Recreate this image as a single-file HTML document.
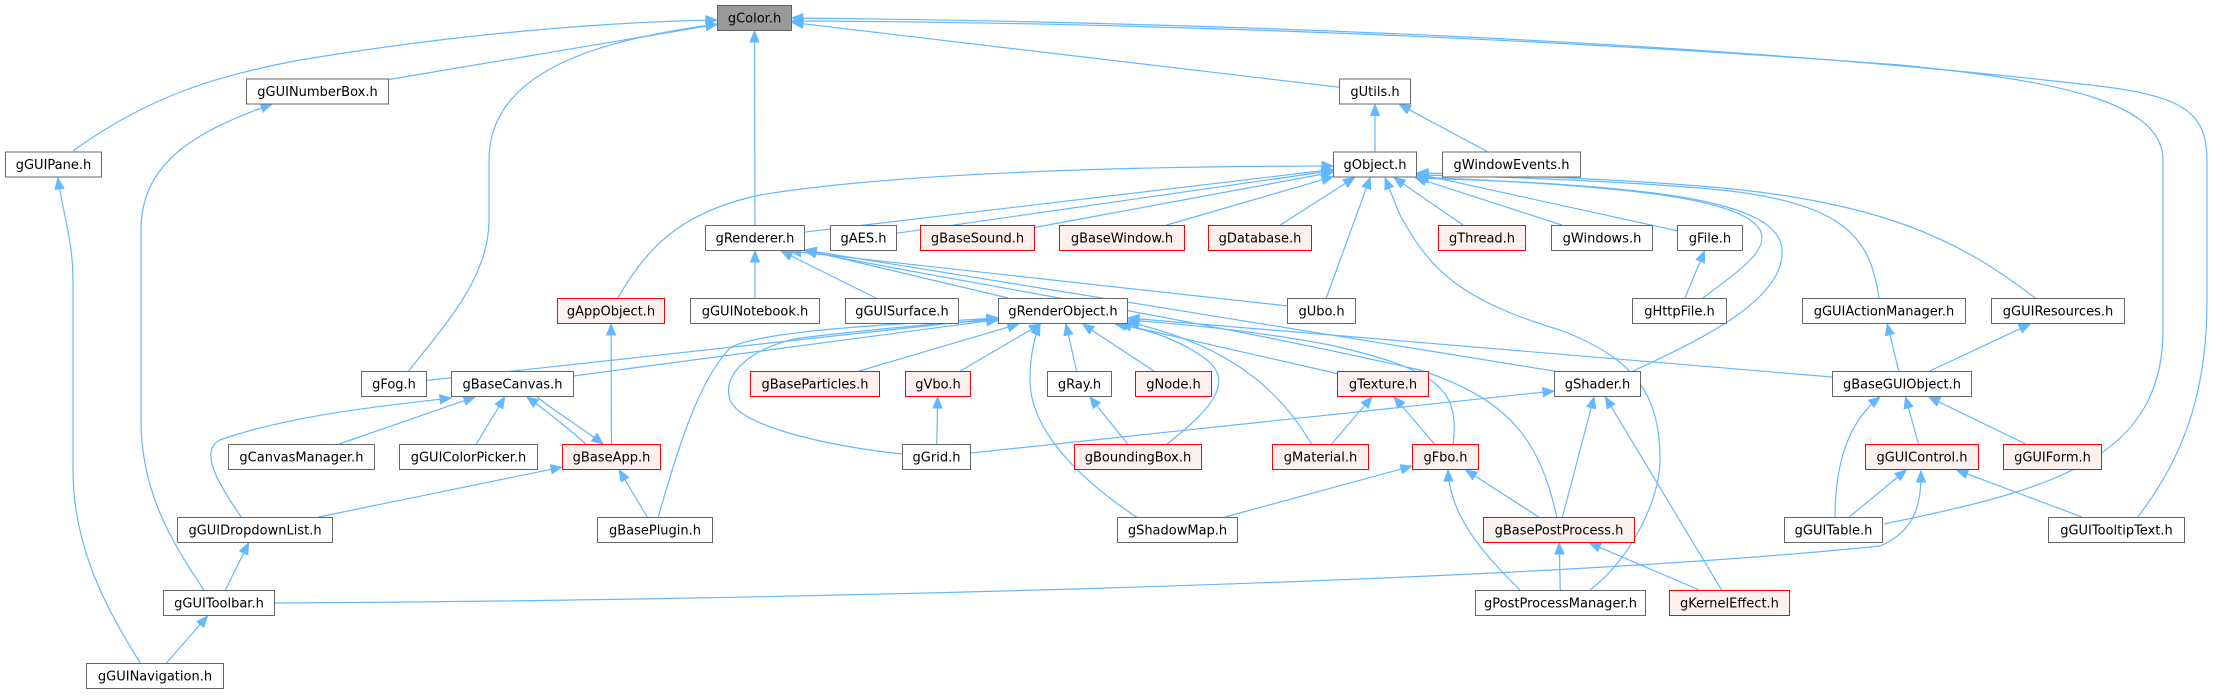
<!DOCTYPE html>
<html><head><meta charset="utf-8">
<style>
html,body{margin:0;padding:0;background:#fff;}
svg{display:block;}
text{font-family:"DejaVu Sans","Liberation Sans",sans-serif;font-size:13px;fill:#000;}
</style></head>
<body>
<svg id="g" width="2213" height="696" viewBox="0 0 2213 696" xmlns="http://www.w3.org/2000/svg">
<g id="edges"></g><g id="nodes"></g>
</svg>
<script>
var R=[18,91.5,164.5,238,311,384,457,530,603,676];
var N={
"gColor.h":[717,792,0,"k"],
"gGUINumberBox.h":[246,389,1],
"gUtils.h":[1339,1411,1],
"gGUIPane.h":[5,102,2],
"gObject.h":[1333,1417,2],
"gWindowEvents.h":[1442,1581,2],
"gRenderer.h":[705,805,3],
"gAES.h":[830,897,3],
"gBaseSound.h":[920,1035,3,"r"],
"gBaseWindow.h":[1059,1185,3,"r"],
"gDatabase.h":[1208,1312,3,"r"],
"gThread.h":[1438,1526,3,"r"],
"gWindows.h":[1551,1653,3],
"gFile.h":[1677,1743,3],
"gAppObject.h":[557,665,4,"r"],
"gGUINotebook.h":[690,820,4],
"gGUISurface.h":[845,959,4],
"gRenderObject.h":[998,1128,4],
"gUbo.h":[1287,1356,4],
"gHttpFile.h":[1632,1727,4],
"gGUIActionManager.h":[1802,1966,4],
"gGUIResources.h":[1991,2125,4],
"gFog.h":[361,427,5],
"gBaseCanvas.h":[451,574,5],
"gBaseParticles.h":[750,880,5,"r"],
"gVbo.h":[905,971,5,"r"],
"gRay.h":[1047,1112,5],
"gNode.h":[1135,1212,5,"r"],
"gTexture.h":[1337,1429,5,"r"],
"gShader.h":[1554,1641,5],
"gBaseGUIObject.h":[1832,1972,5],
"gCanvasManager.h":[228,375,6],
"gGUIColorPicker.h":[399,538,6],
"gBaseApp.h":[562,661,6,"r"],
"gGrid.h":[902,971,6],
"gBoundingBox.h":[1074,1202,6,"r"],
"gMaterial.h":[1272,1369,6,"r"],
"gFbo.h":[1412,1479,6,"r"],
"gGUIControl.h":[1865,1979,6,"r"],
"gGUIForm.h":[2003,2102,6,"r"],
"gGUIDropdownList.h":[177,333,7],
"gBasePlugin.h":[597,713,7],
"gShadowMap.h":[1117,1238,7],
"gBasePostProcess.h":[1483,1635,7,"r"],
"gGUITable.h":[1784,1883,7],
"gGUITooltipText.h":[2048,2185,7],
"gGUIToolbar.h":[163,275,8],
"gPostProcessManager.h":[1475,1646,8],
"gKernelEffect.h":[1669,1790,8,"r"],
"gGUINavigation.h":[86,224,9]
};
var C="#63b8ff";
var E=[
["gGUINumberBox.h","gColor.h"],["gUtils.h","gColor.h"],["gRenderer.h","gColor.h"],
["gWindowEvents.h","gUtils.h"],["gObject.h","gUtils.h"],
["gRenderer.h","gObject.h"],["gAES.h","gObject.h"],["gBaseSound.h","gObject.h"],["gBaseWindow.h","gObject.h"],
["gDatabase.h","gObject.h"],["gThread.h","gObject.h"],["gWindows.h","gObject.h"],["gFile.h","gObject.h"],["gUbo.h","gObject.h"],
["gGUIActionManager.h","gObject.h","M1879,298 C1870,240 1850,200 1700,188 C1600,180 1480,176 1417,175"],
["gGUIResources.h","gObject.h","M2035,298 C1960,240 1880,200 1700,186 C1600,178 1480,174 1417,173"],
["gHttpFile.h","gObject.h","M1703,298 C1740,270 1770,250 1760,230 C1740,195 1600,185 1417,177"],
["gShader.h","gObject.h","M1631,372 C1700,340 1785,300 1782,250 C1780,200 1650,185 1417,178"],
["gPostProcessManager.h","gObject.h","M1590,590 C1630,560 1660,500 1660,460 C1660,400 1640,360 1560,330 C1460,300 1430,270 1400,215 L1385,178"],
["gAppObject.h","gObject.h","M618,298 C650,240 690,210 760,195 C900,172 1150,166 1333,166"],
["gGUINotebook.h","gRenderer.h"],["gGUISurface.h","gRenderer.h"],["gRenderObject.h","gRenderer.h"],
["gUbo.h","gRenderer.h","M1288,306 L790,251"],
["gShader.h","gRenderer.h","M1560,372 L805,250"],
["gBasePostProcess.h","gRenderer.h","M1557,518 C1540,440 1510,400 1420,370 C1200,320 950,280 805,251"],
["gBaseApp.h","gAppObject.h"],
["gHttpFile.h","gFile.h"],
["gBaseGUIObject.h","gGUIActionManager.h"],["gBaseGUIObject.h","gGUIResources.h"],
["gFog.h","gRenderObject.h"],["gBaseCanvas.h","gRenderObject.h"],["gBaseParticles.h","gRenderObject.h"],["gVbo.h","gRenderObject.h"],
["gRay.h","gRenderObject.h"],["gNode.h","gRenderObject.h"],["gTexture.h","gRenderObject.h"],
["gMaterial.h","gRenderObject.h","M1312,445 C1280,390 1230,345 1128,322"],
["gFbo.h","gRenderObject.h","M1453,445 C1460,390 1440,370 1330,345 C1250,330 1180,324 1128,320"],
["gBaseGUIObject.h","gRenderObject.h","M1832,377 L1128,318"],
["gBasePlugin.h","gRenderObject.h","M658,518 C680,440 700,380 730,348 C760,330 900,324 998,318"],
["gGrid.h","gRenderObject.h","M902,454 C820,445 740,425 730,400 C720,370 760,345 800,338 C900,326 960,322 998,320"],
["gShadowMap.h","gRenderObject.h","M1138,518 C1080,480 1030,430 1030,380 C1030,355 1035,335 1040,324"],
["gBoundingBox.h","gRenderObject.h","M1166,445 C1210,410 1240,380 1200,355 C1170,335 1140,328 1115,324"],
["gPostProcessManager.h","gFbo.h","M1520,590 C1490,560 1450,520 1448,470"],
["gBasePostProcess.h","gFbo.h"],["gShadowMap.h","gFbo.h"],
["gFog.h","gColor.h","M408,372 C440,330 489,280 489,220 L489,160 C489,70 600,40 717,24"],
["gGUIPane.h","gColor.h","M73,151 C150,95 220,75 300,60 C450,35 600,22 717,20"],
["gGUITable.h","gColor.h","M1884,524 C2050,490 2163,460 2163,330 L2163,160 C2163,100 2050,80 1900,65 C1500,35 1100,22 792,21"],
["gGUITooltipText.h","gColor.h","M2137,518 C2190,450 2207,380 2207,300 L2207,160 C2207,110 2180,95 2090,85 C1700,40 1200,22 792,18"],
["gGUIDropdownList.h","gBaseCanvas.h","M242,518 C215,480 200,450 220,440 C290,415 390,405 451,398"],
["gCanvasManager.h","gBaseCanvas.h"],["gGUIColorPicker.h","gBaseCanvas.h"],
["gBaseApp.h","gBaseCanvas.h","M586,444 C570,430 545,410 527,397"],
["gBaseCanvas.h","gBaseApp.h","M537,397 C560,415 585,430 603,444"],
["gGUIDropdownList.h","gBaseApp.h"],["gBasePlugin.h","gBaseApp.h"],
["gGrid.h","gVbo.h"],["gBoundingBox.h","gRay.h"],["gMaterial.h","gTexture.h"],["gFbo.h","gTexture.h"],
["gGrid.h","gShader.h","M971,453 L1554,391"],
["gBasePostProcess.h","gShader.h"],["gKernelEffect.h","gShader.h"],
["gPostProcessManager.h","gBasePostProcess.h"],["gKernelEffect.h","gBasePostProcess.h"],
["gGUITable.h","gBaseGUIObject.h","M1835,518 C1835,460 1850,420 1880,397"],
["gGUIControl.h","gBaseGUIObject.h"],["gGUIForm.h","gBaseGUIObject.h"],
["gGUITable.h","gGUIControl.h"],["gGUITooltipText.h","gGUIControl.h"],
["gGUIToolbar.h","gGUIControl.h","M275,603 C700,601 1500,585 1880,546 C1918,530 1921,500 1921,471"],
["gGUIToolbar.h","gGUINumberBox.h","M204,590 C170,540 141,490 141,420 L141,230 C141,160 200,130 272,104"],
["gGUIToolbar.h","gGUIDropdownList.h"],
["gGUINavigation.h","gGUIToolbar.h"],
["gGUINavigation.h","gGUIPane.h","M141,664 C100,600 73,540 73,470 L73,280 C73,240 62,210 58,178"]
];
var NS="http://www.w3.org/2000/svg";
function el(t,a,p){var e=document.createElementNS(NS,t);for(var k in a)e.setAttribute(k,a[k]);p.appendChild(e);return e;}
var eg=document.getElementById("edges"),ng=document.getElementById("nodes");
function box(n){var d=N[n];return {x1:d[0],x2:d[1],y1:R[d[2]]-13,y2:R[d[2]]+13,cx:(d[0]+d[1])/2,cy:R[d[2]]};}
function clip(b,fx,fy){
 var dx=fx-b.cx,dy=fy-b.cy,hw=(b.x2-b.x1)/2,hh=13;
 var t=Math.min(dx?hw/Math.abs(dx):1e9,dy?hh/Math.abs(dy):1e9);
 return [b.cx+dx*t,b.cy+dy*t];}
function arrow(tx,ty,fx,fy){
 var dx=tx-fx,dy=ty-fy,l=Math.hypot(dx,dy);dx/=l;dy/=l;
 var L=11,W=4.5,bx=tx-dx*L,by=ty-dy*L;
 el("polygon",{points:tx+","+ty+" "+(bx-dy*W)+","+(by+dx*W)+" "+(bx+dy*W)+","+(by-dx*W),fill:C,stroke:C,"stroke-width":1},eg);
 return [bx,by];}
E.forEach(function(e){
 var c=box(e[0]),p=box(e[1]);
 if(e[2]){
  var nums=e[2].match(/-?[\d.]+/g).map(Number);var n=nums.length;
  var ex=nums[n-2],ey=nums[n-1],px=nums[n-4],py=nums[n-3];
  el("path",{d:e[2],fill:"none",stroke:C,"stroke-width":1.2},eg);
  arrow(ex,ey,px,py);
 } else {
  var s=clip(c,p.cx,p.cy),t=clip(p,c.cx,c.cy);
  var b=arrow(t[0],t[1],s[0],s[1]);
  el("line",{x1:s[0],y1:s[1],x2:b[0],y2:b[1],stroke:C,"stroke-width":1.2},eg);
 }
});
for(var n in N){var d=N[n],b=box(n);
 var f="#fff",s="#666";
 if(d[3]=="r"){f="#fff0f0";s="#f00";}
 if(d[3]=="k"){f="#999";s="#666";}
 el("rect",{x:b.x1+0.5,y:b.y1+0.5,width:b.x2-b.x1-1,height:25,fill:f,stroke:s,"stroke-width":1},ng);
 var t=el("text",{x:b.cx,y:b.cy+4.5,"text-anchor":"middle"},ng);t.textContent=n;}
</script>
</body></html>
